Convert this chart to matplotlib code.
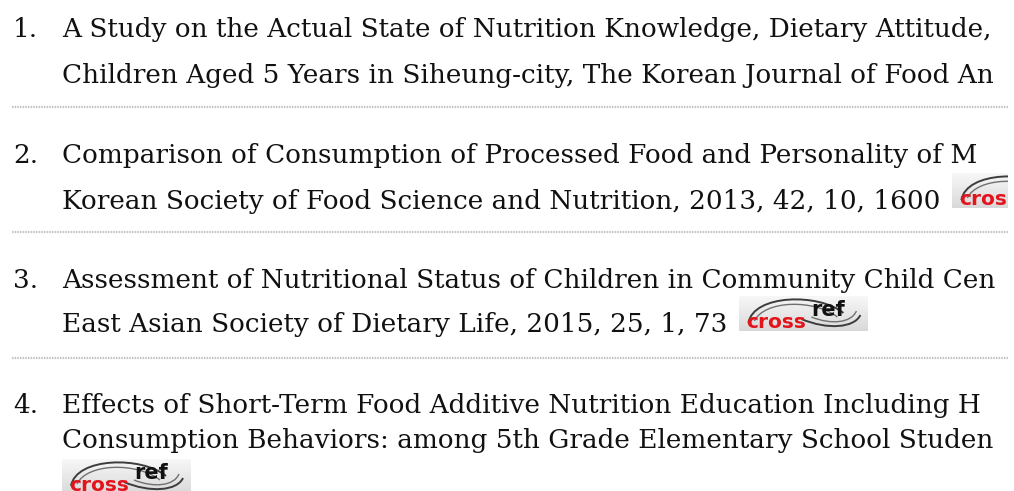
import matplotlib
matplotlib.use("Agg")
import matplotlib.pyplot as plt
from matplotlib.patches import PathPatch
from matplotlib.path import Path
import numpy as np

# ---- content (as visible in the reference; the page cuts it at the right edge) ----
numbers = ["1.", "2.", "3.", "4."]
line1 = [
    "A Study on the Actual State of Nutrition Knowledge, Dietary Attitude,",
    "Comparison of Consumption of Processed Food and Personality of M",
    "Assessment of Nutritional Status of Children in Community Child Cen",
    "Effects of Short-Term Food Additive Nutrition Education Including H",
]
line2 = [
    "Children Aged 5 Years in Siheung-city, The Korean Journal of Food An",
    "Korean Society of Food Science and Nutrition, 2013, 42, 10, 1600",
    "East Asian Society of Dietary Life, 2015, 25, 1, 73",
    "Consumption Behaviors: among 5th Grade Elementary School Studen",
]
has_inline_logo = [False, True, True, False]
logo_on_own_line = [False, False, False, True]

# ---- layout (pixels) ----
W, H = 1014, 491
CLIP_X = 1008
baseline1 = [37, 163, 288, 413]
baseline2 = [83, 209, 332, 448]
separators = [107, 232, 358]
num_x, text_x = 13, 62
FONT = "DejaVu Serif"

fig = plt.figure(figsize=(W / 100, H / 100), dpi=100)
fig.patch.set_facecolor("white")
ax = fig.add_axes([0, 0, CLIP_X / W, 1])
ax.set_xlim(0, CLIP_X)
ax.set_ylim(H, 0)
ax.axis("off")

# fit font size to the measured width of the first line
renderer = fig.canvas.get_renderer()
probe = ax.text(0, 0, line1[0], fontsize=20, family=FONT)
wpx = probe.get_window_extent(renderer).width
probe.remove()
fs = 20 * 930.0 / wpx


def put(x, y, s, **kw):
    return ax.text(x, y, s, fontsize=fs, family=FONT, color="#111111",
                   va="baseline", ha="left", clip_on=True, **kw)


def crossref(x0, yb, w=129, h=35):
    # light vertical gradient background (white -> light grey)
    g = np.linspace(0.97, 0.85, 40)
    img = np.dstack([g, g, g]).reshape(40, 1, 3)
    ax.imshow(img, extent=(x0, x0 + w, yb, yb - h), aspect="auto", zorder=1,
              interpolation="bilinear", clip_on=True)

    def curve(pts, lw, col):
        codes = [Path.MOVETO] + [Path.CURVE4] * (len(pts) - 1)
        ax.add_patch(PathPatch(Path(pts, codes), fill=False, lw=lw, edgecolor=col, zorder=2))

    curve([(x0 + 9, yb - 8), (x0 + 14, yb - 37), (x0 + 80, yb - 38), (x0 + 104, yb - 18)], 1.4, "#3c3c3c")
    curve([(x0 + 15, yb - 10), (x0 + 25, yb - 31), (x0 + 75, yb - 32), (x0 + 98, yb - 14)], 1.0, "#707070")
    curve([(x0 + 62, yb - 12), (x0 + 88, yb - 1), (x0 + 115, yb - 3), (x0 + 121, yb - 16)], 1.4, "#3c3c3c")
    curve([(x0 + 72, yb - 14), (x0 + 92, yb - 6), (x0 + 112, yb - 8), (x0 + 117, yb - 20)], 1.0, "#707070")
    ax.text(x0 + 7, yb - 3, "cross", fontsize=14.5, family="DejaVu Sans", weight="bold",
            color="#e3141c", va="baseline", ha="left", zorder=3, clip_on=True)
    ax.text(x0 + 72, yb - 15, "ref", fontsize=15, family="DejaVu Sans", weight="bold",
            color="#111111", va="baseline", ha="left", zorder=3, clip_on=True)


inv = ax.transData.inverted()
for i in range(4):
    put(num_x, baseline1[i], numbers[i])
    put(text_x, baseline1[i], line1[i])
    t2 = put(text_x, baseline2[i], line2[i])
    if has_inline_logo[i]:
        bb = t2.get_window_extent(renderer)
        xend = inv.transform((bb.x1, bb.y0))[0]
        crossref(xend + 12, baseline2[i] - 1)
    if logo_on_own_line[i]:
        crossref(text_x, baseline2[i] + 46)

for y in separators:
    ax.plot([12, CLIP_X], [y, y], color="#c4c4c4", lw=1.6, linestyle=(0, (0.7, 0.5)),
            solid_capstyle="butt", zorder=1)

fig.savefig("out.png", dpi=100, facecolor="white")
